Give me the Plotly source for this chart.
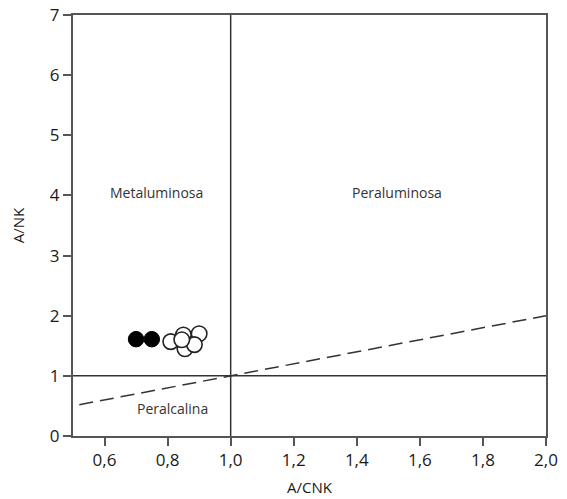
import plotly.graph_objects as go

# Data
filled_x = [0.70, 0.75]
filled_y = [1.61, 1.61]
open_x = [0.81, 0.90, 0.855, 0.885, 0.85, 0.845]
open_y = [1.57, 1.70, 1.45, 1.52, 1.68, 1.60]

x_ticks = [0.6, 0.8, 1.0, 1.2, 1.4, 1.6, 1.8, 2.0]
x_labels = ["0,6", "0,8", "1,0", "1,2", "1,4", "1,6", "1,8", "2,0"]
y_ticks = [0, 1, 2, 3, 4, 5, 6, 7]

dash_x = [0.52, 2.0]
dash_y = [0.52, 2.0]
hline_x = [0.5, 2.0]
hline_y = [1.0, 1.0]
vline_x = [1.0, 1.0]
vline_y = [0.0, 7.0]

labels = ["Metaluminosa", "Peraluminosa", "Peralcalina"]
label_x = [0.764, 1.526, 0.816]
label_y = [4.05, 4.05, 0.45]

FONT = "Open Sans"
LINE = "#333"

fig = go.Figure()
fig.add_trace(go.Scatter(x=hline_x, y=hline_y, mode="lines",
                         line=dict(color=LINE, width=1.5), hoverinfo="skip"))
fig.add_trace(go.Scatter(x=vline_x, y=vline_y, mode="lines",
                         line=dict(color=LINE, width=1.5), hoverinfo="skip"))
fig.add_trace(go.Scatter(x=dash_x, y=dash_y, mode="lines",
                         line=dict(color=LINE, width=1.5, dash="14px,7px"), hoverinfo="skip"))
fig.add_trace(go.Scatter(x=filled_x, y=filled_y, mode="markers",
                         marker=dict(size=15.5, color="black", line=dict(color="black", width=1))))
fig.add_trace(go.Scatter(x=open_x, y=open_y, mode="markers",
                         marker=dict(size=15.5, color="white", line=dict(color="#222", width=1.6))))

for t, x, y in zip(labels, label_x, label_y):
    fig.add_annotation(x=x, y=y, text=t, showarrow=False,
                       font=dict(family=FONT, size=14, color="#333"))

fig.update_layout(
    width=567, height=499,
    margin=dict(l=73, r=21, t=15, b=63),
    plot_bgcolor="white", paper_bgcolor="white",
    showlegend=False,
    font=dict(family=FONT, color="#1a1a1a"),
)
fig.update_xaxes(
    range=[0.5, 2.0], tickvals=x_ticks, ticktext=x_labels,
    showgrid=False, zeroline=False, automargin=False,
    showline=True, linecolor="#555", linewidth=2, mirror=True,
    ticks="outside", ticklen=8, tickwidth=1.5, tickcolor="#555",
    tickfont=dict(family=FONT, size=17, color="#1a1a1a"),
    title=dict(text="A/CNK", font=dict(family=FONT, size=15, color="#1a1a1a"), standoff=12),
)
fig.update_yaxes(
    range=[0, 7], tickvals=y_ticks,
    showgrid=False, zeroline=False, automargin=False,
    showline=True, linecolor="#555", linewidth=2, mirror=True,
    ticks="outside", ticklen=8, tickwidth=1.5, tickcolor="#555",
    tickfont=dict(family=FONT, size=17, color="#1a1a1a"),
    title=dict(text="A/NK", font=dict(family=FONT, size=15, color="#1a1a1a"), standoff=22),
)

fig.write_html("out.html")
